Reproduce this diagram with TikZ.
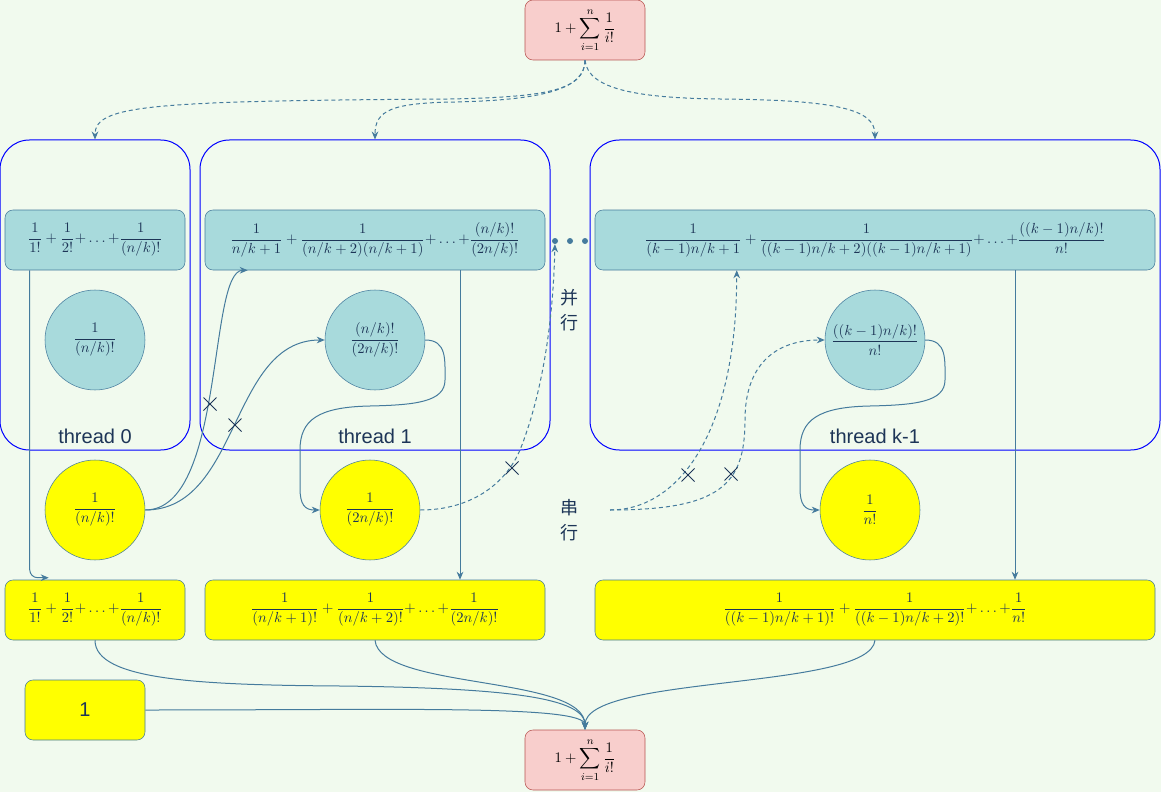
\documentclass[tikz,border=0pt]{standalone}
\usepackage{amsmath}
\usepackage{fontspec}
\setsansfont{Liberation Sans}
\newfontfamily\cjk{Noto Sans CJK SC}
\usetikzlibrary{arrows.meta,shapes.misc}

\definecolor{bgc}{HTML}{F1FAEE}
\definecolor{tealc}{HTML}{A8DADC}
\definecolor{linec}{HTML}{457B9D}
\definecolor{textc}{HTML}{1D3557}
\definecolor{redf}{HTML}{F8CECC}
\definecolor{redd}{HTML}{B85450}
\definecolor{yel}{HTML}{FFFF00}

\begin{document}
\begin{tikzpicture}[x=0.75pt,y=-0.75pt,>={Stealth[length=6pt,width=5pt]},
    every node/.style={text=textc,font=\fontsize{11}{13}\selectfont},
    sumbox/.style={draw=redd,fill=redf,rounded corners=6pt,minimum width=90pt,minimum height=45pt,text=black},
    tealbox/.style={draw=linec,fill=tealc,rounded corners=6pt,minimum height=45pt,inner sep=0pt},
    yelbox/.style={draw=linec,fill=yel,rounded corners=6pt,minimum height=45pt,inner sep=0pt},
    tealball/.style={circle,draw=linec,fill=tealc,minimum size=75pt,inner sep=0pt},
    yelball/.style={circle,draw=linec,fill=yel,minimum size=75pt,inner sep=0pt},
    thread/.style={draw=blue,line width=0.75pt,rounded corners=22pt,minimum height=232.5pt},
    tlabel/.style={font=\sffamily\fontsize{15}{18}\selectfont},
    cnlabel/.style={font=\cjk\fontsize{13.5}{18.5}\selectfont,align=center},
    pdot/.style={circle,fill=linec,minimum size=4.5pt,inner sep=0pt},
    xmark/.style={cross out,draw=textc,line width=0.75pt,minimum size=9pt,inner sep=0pt},
    edge/.style={->,draw=linec,line width=0.75pt},
    dashedge/.style={edge,dash pattern=on 3pt off 2.25pt}]

    \useasboundingbox (0,0) rectangle (1161,792);
    \fill[bgc] (0,0) rectangle (1161,792);

    % threads
    \node[thread,minimum width=142.5pt] (th0) at (95,295) {};
    \node[thread,minimum width=262.5pt] (th1) at (375,295) {};
    \node[thread,minimum width=427.5pt] (thk) at (875,295) {};
    \node[tlabel] (l0) at (95,436) {thread 0};
    \node[tlabel] (l1) at (375,436) {thread 1};
    \node[tlabel] (lk) at (875,436) {thread k-1};

    \node[sumbox] (top) at (585,30) {$\displaystyle 1+\sum_{i=1}^{n}\frac{1}{i!}$};
    \node[sumbox] (bot) at (585,760) {$\displaystyle 1+\sum_{i=1}^{n}\frac{1}{i!}$};

    \node[tealbox,minimum width=135pt] (tb0) at (95,240) {$\dfrac{1}{1!}+\dfrac{1}{2!}{+}\ldots{+}\dfrac{1}{(n/k)!}$};
    \node[tealbox,minimum width=255pt] (tb1) at (375,240) {$\dfrac{1}{n/k+1}+\dfrac{1}{(n/k+2)(n/k+1)}{+}\ldots{+}\dfrac{(n/k)!}{(2n/k)!}$};
    \node[tealbox,minimum width=420pt] (tbk) at (875,240) {$\dfrac{1}{(k-1)n/k+1}+\dfrac{1}{((k-1)n/k+2)((k-1)n/k+1)}{+}\ldots{+}\dfrac{((k-1)n/k)!}{n!}$};

    \node[tealball] (tc0) at (95,340) {$\dfrac{1}{(n/k)!}$};
    \node[tealball] (tc1) at (375,340) {$\dfrac{(n/k)!}{(2n/k)!}$};
    \node[tealball] (tck) at (875,340) {$\dfrac{((k-1)n/k)!}{n!}$};

    \node[yelball] (yc0) at (95,510) {$\dfrac{1}{(n/k)!}$};
    \node[yelball] (yc1) at (370,510) {$\dfrac{1}{(2n/k)!}$};
    \node[yelball] (yck) at (870,510) {$\dfrac{1}{n!}$};

    \node[yelbox,minimum width=135pt] (yb0) at (95,610) {$\dfrac{1}{1!}+\dfrac{1}{2!}{+}\ldots{+}\dfrac{1}{(n/k)!}$};
    \node[yelbox,minimum width=255pt] (yb1) at (375,610) {$\dfrac{1}{(n/k+1)!}+\dfrac{1}{(n/k+2)!}{+}\ldots{+}\dfrac{1}{(2n/k)!}$};
    \node[yelbox,minimum width=420pt] (ybk) at (875,610) {$\dfrac{1}{((k-1)n/k+1)!}+\dfrac{1}{((k-1)n/k+2)!}{+}\ldots{+}\dfrac{1}{n!}$};
    \node[yelbox,minimum width=90pt,font=\sffamily\fontsize{15}{18}\selectfont] (one) at (85,710) {1};

    \node[pdot] (d1) at (555,241) {};
    \node[pdot] (d2) at (570,241) {};
    \node[pdot] (d3) at (585,241) {};
    \node[cnlabel] (par) at (569,310) {并\\行};
    \node[cnlabel] (ser) at (569,520) {串\\行};

    % fan out
    \draw[dashedge] (top.south) .. controls (585,92) and (540,97) .. (450,99) .. controls (150,101) and (95,105) .. (th0.north);
    \draw[dashedge] (top.south) .. controls (585,90) and (540,100) .. (455,102) .. controls (392,103) and (375,110) .. (th1.north);
    \draw[dashedge] (top.south) .. controls (588,90) and (640,98) .. (720,99) .. controls (840,100) and (875,110) .. (thk.north);

    \draw[edge,rounded corners=6pt] ([xshift=18.75pt]tb0.south west) |- ([xshift=33pt,yshift=1.5pt]yb0.north west);
    \draw[edge] ([xshift=63.75pt]tb1.south) -- ([xshift=63.75pt]yb1.north);
    \draw[edge] ([xshift=105pt]tbk.south) -- ([xshift=105pt]ybk.north);

    \draw[edge] (yc0.east) .. controls +(80,0) and +(-40,0) .. ([xshift=32.25pt]tb1.south west);
    \draw[edge] (yc0.east) .. controls +(95,0) and +(-95,0) .. (tc1.west);
    \draw[edge] (tc1.east) .. controls (447,340) and (445,360) .. (445,380) .. controls (445,402) and (415,405) .. (370,406)
        .. controls (318,407) and (300,420) .. (300,450) -- (300,488) .. controls (300,505) and (305,510) .. (yc1.west);
    \draw[edge] (tck.east) .. controls (947,340) and (945,360) .. (945,380) .. controls (945,402) and (915,405) .. (870,406)
        .. controls (818,407) and (800,420) .. (800,450) -- (800,488) .. controls (800,505) and (805,510) .. (yck.west);

    \draw[dashedge] (yc1.east) .. controls (470,510) and (505,485) .. (520,450) .. controls (540,400) and (553,330) .. (d1);
    \draw[dashedge] ([xshift=30.75pt,yshift=7.5pt]ser.center) .. controls +(70,0) and +(0,160) .. ([xshift=106.5pt]tbk.south west);
    \draw[dashedge] ([xshift=30.75pt,yshift=7.5pt]ser.center) .. controls (720,510) and (745,485) .. (745,420)
        .. controls (745,365) and (775,340) .. (tck.west);

    % gather
    \draw[edge] (yb0.south) .. controls +(0,40) and (200,685) .. (340,686) .. controls (510,688) and (585,698) .. (bot.north);
    \draw[edge] (yb1.south) .. controls +(5,50) and +(0,-55) .. (bot.north);
    \draw[edge] (ybk.south) .. controls +(-5,50) and +(0,-55) .. (bot.north);
    \draw[edge] (one.east) .. controls +(255,0) and +(0,-25) .. (bot.north);

    \node[xmark] (x1) at (210,404) {};
    \node[xmark] (x2) at (235,425) {};
    \node[xmark] (x3) at (512,468) {};
    \node[xmark] (x4) at (688,475) {};
    \node[xmark] (x5) at (731,474) {};
\end{tikzpicture}
\end{document}
